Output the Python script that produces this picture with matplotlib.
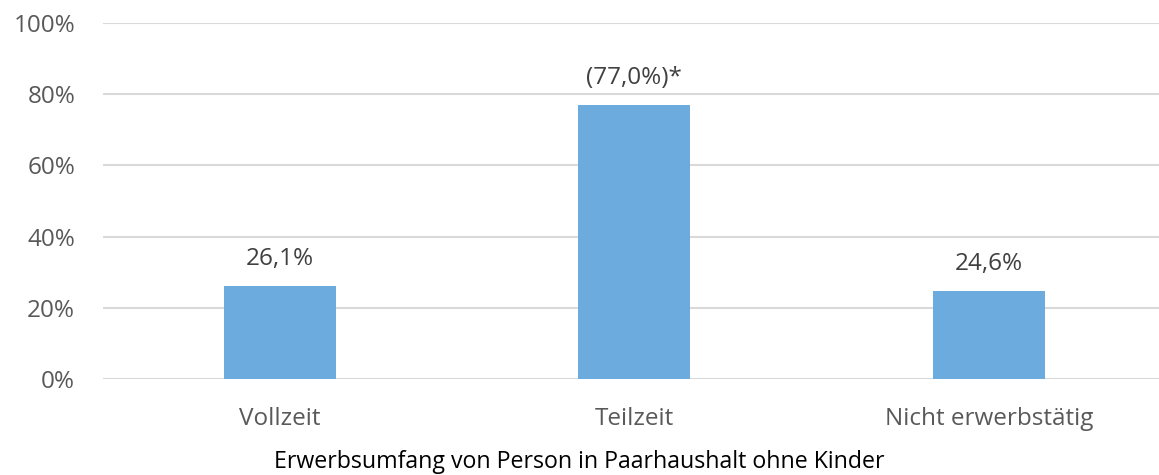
import matplotlib.pyplot as plt

plt.rcParams['font.family'] = ['Open Sans', 'DejaVu Sans']

# Daten
kategorien = ['Vollzeit', 'Teilzeit', 'Nicht erwerbstätig']
werte = [0.261, 0.770, 0.246]
beschriftung = ['26,1%', '(77,0%)*', '24,6%']
y_ticks = [0, 0.2, 0.4, 0.6, 0.8, 1.0]
y_labels = ['0%', '20%', '40%', '60%', '80%', '100%']

W, H = 1159, 475
fig = plt.figure(figsize=(W / 100, H / 100), dpi=100)
ax = fig.add_axes([103 / W, 96 / H, (W - 103) / W, 356 / H])

x = list(range(len(kategorien)))
ax.bar(x, werte, width=0.316, color='#6CABDD', zorder=3)

for xi, v, txt in zip(x, werte, beschriftung):
    ax.annotate(txt, (xi, v), xytext=(0, 11), textcoords='offset points',
                ha='center', va='bottom', fontsize=17.5, color='#404040')

ax.set_xlim(-0.4993, 2.48)
ax.set_ylim(0, 1.0)
ax.set_yticks(y_ticks)
ax.set_yticklabels(y_labels)
ax.set_xticks(x)
ax.set_xticklabels(kategorien)
ax.tick_params(axis='both', length=0, labelsize=17.5, labelcolor='#595959')
ax.tick_params(axis='y', pad=20)
ax.tick_params(axis='x', pad=20)
ax.grid(axis='y', color='#d9d9d9', linewidth=1.5, zorder=0)
for s in ax.spines.values():
    s.set_visible(False)

fig.text(0.5, 1 - 462 / H, 'Erwerbsumfang von Person in Paarhaushalt ohne Kinder',
         ha='center', va='center', fontsize=16.7, color='black')

fig.savefig('out.png', dpi=100)
